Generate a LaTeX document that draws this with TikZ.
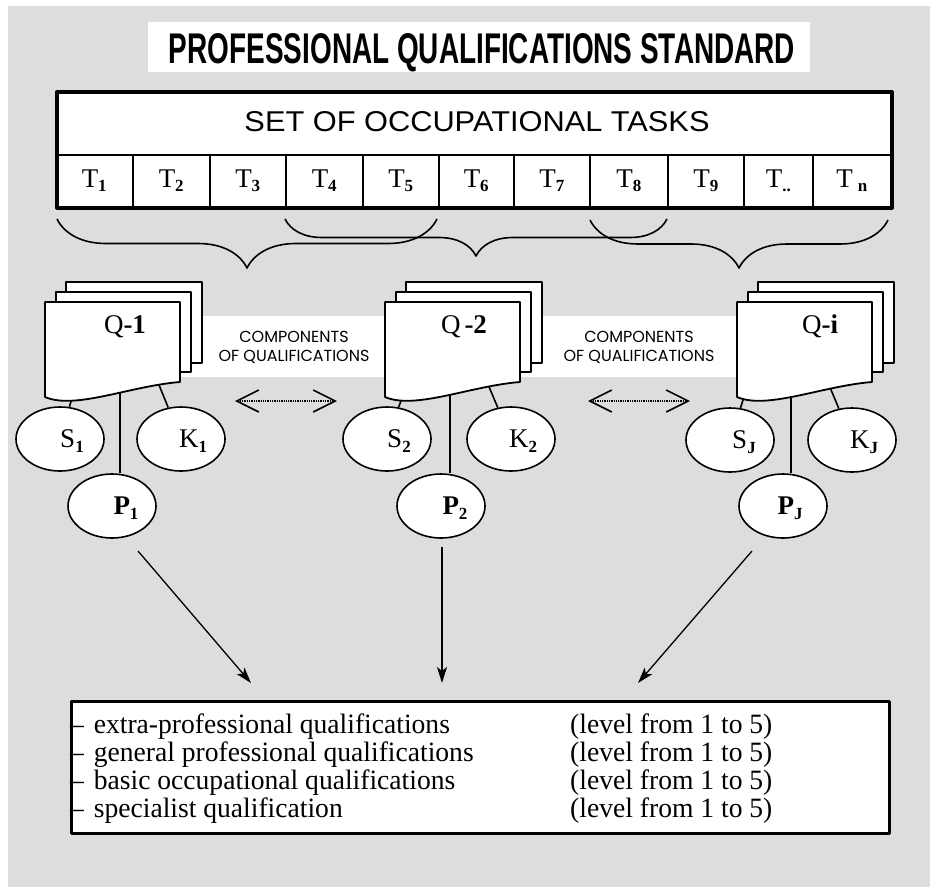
\documentclass[tikz,border=0pt]{standalone}
\usepackage{fontspec}
\usepackage{graphicx}
\setmainfont{Liberation Serif}
\newfontfamily\sansf{Liberation Sans}
\newfontfamily\compf{Poppins}
\usetikzlibrary{shapes.geometric,arrows.meta,decorations.pathreplacing}
\definecolor{bggray}{RGB}{221,221,221}
\newcommand\sbb[1]{\raisebox{-0.17em}{\fontsize{17}{17}\selectfont\bfseries #1}}
\begin{document}
\begin{tikzpicture}[x=1pt,y=-1pt,line join=round,
  cell/.style={draw, line width=1.5pt, fill=white, minimum height=52pt, inner sep=0pt,
    anchor=north west, text height=18pt, text depth=5pt, font=\fontsize{27}{30}\selectfont},
  oval/.style={ellipse, draw, line width=1.6pt, fill=white, minimum width=88pt,
    minimum height=64pt, inner sep=0pt, text height=21pt, text depth=4pt,
    font=\fontsize{27}{30}\selectfont},
  stem/.style={line width=1.6pt},
  page/.style={draw, line width=1.8pt, fill=white},
  dotarrow/.style={line width=1.3pt, densely dotted,
    {Straight Barb[length=22pt,width=22pt,line width=1.6pt]}-{Straight Barb[length=22pt,width=22pt,line width=1.6pt]}},
  flow/.style={line width=1.3pt, -{Stealth[length=16pt,width=10pt,inset=4pt]}},
  bracestyle/.style={decorate, line width=1.6pt},
  comp/.style={align=center, inner sep=0pt, font=\compf\fontsize{16}{19}\selectfont},
  qlab/.style={anchor=base, inner sep=0pt, font=\fontsize{27}{30}\selectfont},
  qline/.style={anchor=base west, inner sep=0pt, font=\fontsize{28}{30}\selectfont},
  qstack/.pic={
    \draw[page] (21,-20) rectangle (157,61);
    \draw[page] (11,-10) rectangle (146,70);
    \draw[page] (0,95) -- (0,0) -- (135,0) -- (135,80) .. controls (85,84) and (30,108) .. (0,95) -- cycle;
  }
]
\useasboundingbox (0,0) rectangle (930,887);
\fill[white] (0,0) rectangle (930,887);
\fill[bggray] (8,6) rectangle (930,887);

% title
\node[fill=white, minimum width=662pt, minimum height=50pt, inner sep=0pt, anchor=north west] (titlebox) at (148,22) {};
\node[anchor=base, inner sep=0pt] (title) at (482,63)
  {\resizebox{626pt}{30pt}{\sansf\bfseries PROFESSIONAL QUALIFICATIONS STANDARD}};

% task table
\fill[white] (55,90) rectangle (890,154);
\node[cell, minimum width=77pt] (t1) at (55,154) {T\sbb{1}};
\node[cell, minimum width=77pt] (t2) at (132,154) {T\sbb{2}};
\node[cell, minimum width=76pt] (t3) at (209,154) {T\sbb{3}};
\node[cell, minimum width=77pt] (t4) at (285,154) {T\sbb{4}};
\node[cell, minimum width=76pt] (t5) at (362,154) {T\sbb{5}};
\node[cell, minimum width=75pt] (t6) at (438,154) {T\sbb{6}};
\node[cell, minimum width=76pt] (t7) at (513,154) {T\sbb{7}};
\node[cell, minimum width=78pt] (t8) at (589,154) {T\sbb{8}};
\node[cell, minimum width=76pt] (t9) at (667,154) {T\sbb{9}};
\node[cell, minimum width=69pt] (tdots) at (743,154) {T\sbb{..}};
\node[cell, minimum width=78pt] (tn) at (812,154) {T\hspace{5pt}\sbb{n}};
\node[draw, line width=3.5pt, minimum width=835pt, minimum height=116pt, inner sep=0pt, anchor=north west] (tasks) at (55,90) {};
\node[inner sep=0pt] (header) at (477,122) {\resizebox{465pt}{20pt}{\sansf SET OF OCCUPATIONAL TASKS}};

% braces
\draw[bracestyle, decoration={brace, mirror, amplitude=49pt}] (57,219) -- (437,219);
\draw[bracestyle, decoration={brace, mirror, amplitude=37pt}] (285,219) -- (667,219);
\draw[bracestyle, decoration={brace, mirror, amplitude=48pt}] (590,220) -- (888,220);

% band
\fill[white] (150,316) rectangle (740,377);
\node[comp] (comp1) at (294,347) {COMPONENTS\\OF QUALIFICATIONS};
\node[comp] (comp2) at (639,347) {COMPONENTS\\OF QUALIFICATIONS};

% ellipses
\node[oval] (S1) at (60,439) {\hspace*{24pt}S\sbb{1}};
\node[oval] (K1) at (181,439) {\hspace*{24pt}K\sbb{1}};
\node[oval] (P1) at (112,506) {\hspace*{28pt}\textbf{P}\sbb{1}};
\node[oval] (S2) at (387,439) {\hspace*{24pt}S\sbb{2}};
\node[oval] (K2) at (511,439) {\hspace*{24pt}K\sbb{2}};
\node[oval] (P2) at (441,506) {\hspace*{28pt}\textbf{P}\sbb{2}};
\node[oval] (SJ) at (730,440) {\hspace*{28pt}S\sbb{J}};
\node[oval] (KJ) at (852,440) {\hspace*{24pt}K\sbb{J}};
\node[oval] (PJ) at (783,506) {\hspace*{14pt}\textbf{P}\sbb{J}};

% connector starts (inside pages, covered by them)
\coordinate (q1s) at (72,398);  \coordinate (q1k) at (157,380); \coordinate (q1p) at (120,390);
\coordinate (q2s) at (402,398); \coordinate (q2k) at (487,382); \coordinate (q2p) at (450,390);
\coordinate (qis) at (745,394); \coordinate (qik) at (829,385); \coordinate (qip) at (791,388);

\draw[stem] (q1s) -- (S1); \draw[stem] (q1k) -- (K1); \draw[stem] (q1p) -- (q1p |- P1.north);
\draw[stem] (q2s) -- (S2); \draw[stem] (q2k) -- (K2); \draw[stem] (q2p) -- (q2p |- P2.north);
\draw[stem] (qis) -- (SJ); \draw[stem] (qik) -- (KJ); \draw[stem] (qip) -- (qip |- PJ.north);

% page stacks
\pic at (45,302) {qstack};
\pic at (385,302) {qstack};
\pic at (737,302) {qstack};
\node[qlab] (q1) at (125,333) {Q\textbf{-1}};
\node[qlab] (q2) at (464,333) {Q\hspace{4pt}\textbf{-2}};
\node[qlab] (qi) at (820,333) {Q\textbf{-i}};

% dotted double arrows
\coordinate (d1l) at (235,401); \coordinate (d1r) at (337,401);
\coordinate (d2l) at (588,401); \coordinate (d2r) at (690,401);
\draw[dotarrow] (d1l) -- (d1r);
\draw[dotarrow] (d2l) -- (d2r);

% bottom box
\node[draw, line width=2.5pt, fill=white, minimum width=818pt, minimum height=132pt, inner sep=0pt, anchor=north west] (quals) at (70,700) {};
\node[qline] (l1) at (70,733) {\scalebox{0.985}[1]{–\hspace{10pt}extra-professional qualifications}};
\node[qline] (l2) at (70,761) {\scalebox{0.985}[1]{–\hspace{10pt}general professional qualifications}};
\node[qline] (l3) at (70,789) {\scalebox{0.985}[1]{–\hspace{10pt}basic occupational qualifications}};
\node[qline] (l4) at (70,817) {\scalebox{0.985}[1]{–\hspace{10pt}specialist qualification}};
\node[qline] (r1) at (570,733) {\scalebox{0.985}[1]{(level from 1 to 5)}};
\node[qline] (r2) at (570,761) {\scalebox{0.985}[1]{(level from 1 to 5)}};
\node[qline] (r3) at (570,789) {\scalebox{0.985}[1]{(level from 1 to 5)}};
\node[qline] (r4) at (570,817) {\scalebox{0.985}[1]{(level from 1 to 5)}};

% arrows down
\coordinate (a1s) at (138,551); \coordinate (a1e) at (251,683);
\coordinate (a2s) at (442,547); \coordinate (a2e) at (442,683);
\coordinate (a3s) at (752,551); \coordinate (a3e) at (638,683);
\draw[flow] (a1s) -- (a1e);
\draw[flow] (a2s) -- (a2e);
\draw[flow] (a3s) -- (a3e);
\end{tikzpicture}
\end{document}
